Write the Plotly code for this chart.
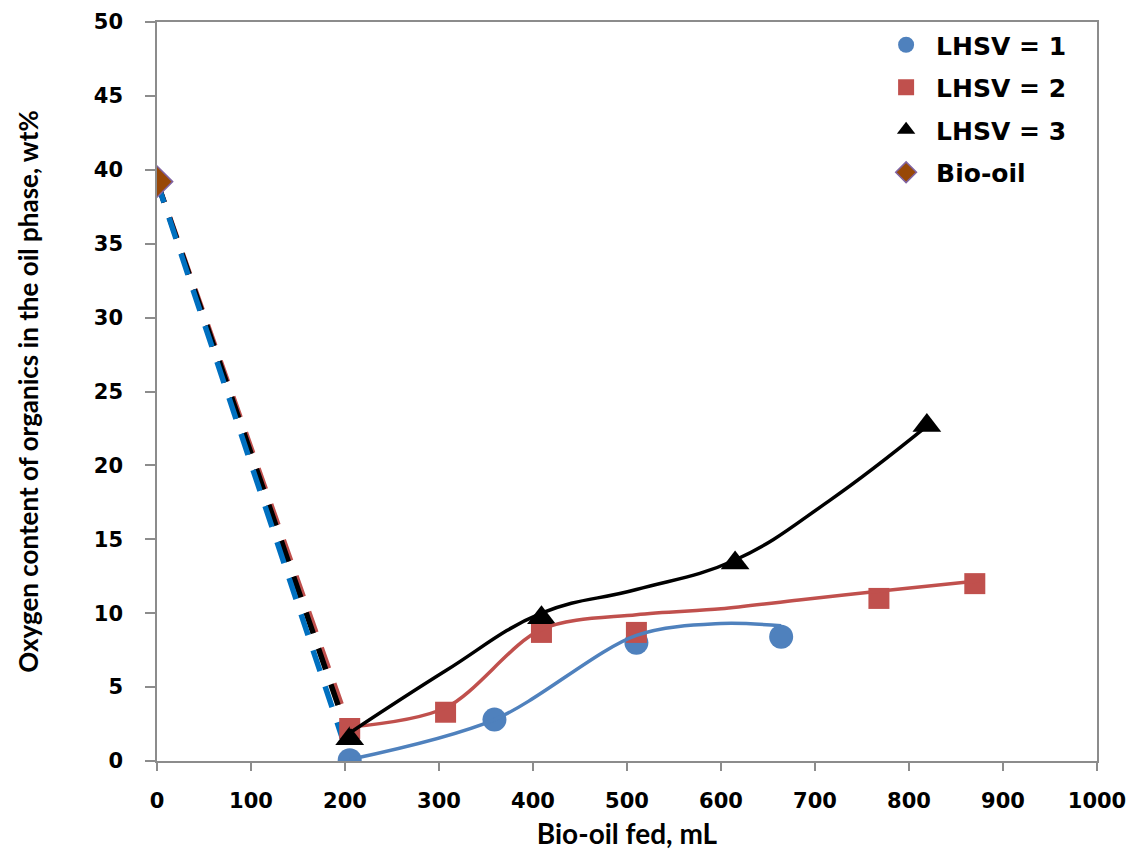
import plotly.graph_objects as go

# ---- data ----
bio_x = [0]
bio_y = [39.2]

lhsv1_x = [205, 359, 510, 664]
lhsv1_y = [0.05, 2.8, 8.0, 8.4]

lhsv2_x = [205, 307, 409, 510, 768, 870]
lhsv2_y = [2.2, 3.3, 8.7, 8.7, 11.0, 12.0]

lhsv3_x = [205, 409, 615, 819]
lhsv3_y = [1.5, 9.7, 13.4, 22.7]

# smoothed trend curves (knots)
curve1_x = [205, 359, 510, 600, 664]
curve1_y = [0.1, 2.8, 8.5, 9.3, 9.15]

curve2_x = [205, 307, 409, 510, 600, 683, 770, 875]
curve2_y = [2.3, 3.6, 8.9, 9.9, 10.3, 10.9, 11.5, 12.2]

curve3_x = [205, 307, 409, 510, 615, 715, 818]
curve3_y = [1.9, 6.1, 10.0, 11.6, 13.6, 17.6, 22.6]

x_ticks = [0, 100, 200, 300, 400, 500, 600, 700, 800, 900, 1000]
y_ticks = [0, 5, 10, 15, 20, 25, 30, 35, 40, 45, 50]

BLUE = "#4F81BD"
DASH_BLUE = "#0070C0"
RED = "#C0504D"
BLACK = "#000000"
BROWN = "#984807"
PURPLE = "#8064A2"

fig = go.Figure()

# dashed connectors from bio-oil to first point of each series
dash_pat = "22px,16px"
fig.add_trace(go.Scatter(x=[bio_x[0], lhsv2_x[0]], y=[bio_y[0], lhsv2_y[0]], mode="lines",
                         line=dict(color=RED, width=5.5, dash=dash_pat), showlegend=False, hoverinfo="skip"))
fig.add_trace(go.Scatter(x=[bio_x[0], lhsv3_x[0]], y=[bio_y[0], lhsv3_y[0]], mode="lines",
                         line=dict(color=BLACK, width=5.5, dash=dash_pat), showlegend=False, hoverinfo="skip"))
fig.add_trace(go.Scatter(x=[bio_x[0], lhsv1_x[0]], y=[bio_y[0], lhsv1_y[0]], mode="lines",
                         line=dict(color=DASH_BLUE, width=5.5, dash=dash_pat), showlegend=False, hoverinfo="skip"))

# markers
fig.add_trace(go.Scatter(x=lhsv1_x, y=lhsv1_y, mode="markers", name="LHSV = 1",
                         marker=dict(symbol="circle", size=24, color=BLUE, line=dict(width=0)),
                         legendgroup="a"))
fig.add_trace(go.Scatter(x=lhsv2_x, y=lhsv2_y, mode="markers", name="LHSV = 2",
                         marker=dict(symbol="square", size=21, color=RED, line=dict(width=0)),
                         legendgroup="b"))
fig.add_trace(go.Scatter(x=lhsv3_x, y=lhsv3_y, mode="markers", name="LHSV = 3",
                         marker=dict(symbol="triangle-up", size=25, color=BLACK, line=dict(width=0)),
                         legendgroup="c"))
fig.add_trace(go.Scatter(x=bio_x, y=bio_y, mode="markers", name="Bio-oil",
                         marker=dict(symbol="diamond", size=24, color=BROWN, line=dict(width=1.5, color=PURPLE)),
                         legendgroup="d"))

# smooth curves
fig.add_trace(go.Scatter(x=curve1_x, y=curve1_y, mode="lines",
                         line=dict(color=BLUE, width=3.5, shape="spline", smoothing=0.9),
                         showlegend=False, hoverinfo="skip"))
fig.add_trace(go.Scatter(x=curve2_x, y=curve2_y, mode="lines",
                         line=dict(color=RED, width=3.5, shape="spline", smoothing=0.9),
                         showlegend=False, hoverinfo="skip"))
fig.add_trace(go.Scatter(x=curve3_x, y=curve3_y, mode="lines",
                         line=dict(color=BLACK, width=3.5, shape="spline", smoothing=1.2),
                         showlegend=False, hoverinfo="skip"))

tick_font = dict(family="DejaVu Sans", size=21, color="black", weight="bold")

fig.update_layout(
    width=1130, height=849,
    margin=dict(l=149, r=41, t=14, b=96),
    paper_bgcolor="white", plot_bgcolor="white",
    showlegend=True,
    legend=dict(x=0.765, y=1.0, xanchor="left", yanchor="top",
                font=dict(family="DejaVu Sans", size=25, color="black", weight="bold"),
                bgcolor="rgba(0,0,0,0)", traceorder="grouped", tracegroupgap=7,
                itemsizing="trace", itemwidth=50),
    xaxis=dict(range=[0, 1000], tickvals=x_ticks, ticktext=[str(v) for v in x_ticks],
               automargin=False,
               showgrid=False, zeroline=False, showline=True, linecolor="#8C8C8C", linewidth=1.5,
               mirror=True, ticks="outside", ticklen=8, tickcolor="#8C8C8C", tickwidth=1.5,
               tickfont=tick_font, ticklabelstandoff=12,
               title=dict(text="Bio-oil fed, mL", font=dict(family="Lato", size=28, color="black", weight="bold"),
                          standoff=12)),
    yaxis=dict(range=[0, 50], tickvals=y_ticks, ticktext=[str(v) for v in y_ticks],
               automargin=False,
               showgrid=False, zeroline=False, showline=True, linecolor="#8C8C8C", linewidth=1.5,
               mirror=True, ticks="outside", ticklen=10, tickcolor="#8C8C8C", tickwidth=1.5,
               tickfont=tick_font, ticklabelstandoff=18,
               title=dict(text="Oxygen content of organics in the oil phase, wt%",
                          font=dict(family="Lato", size=26, color="black", weight="bold"), standoff=48)),
)

fig.write_html("out.html")
